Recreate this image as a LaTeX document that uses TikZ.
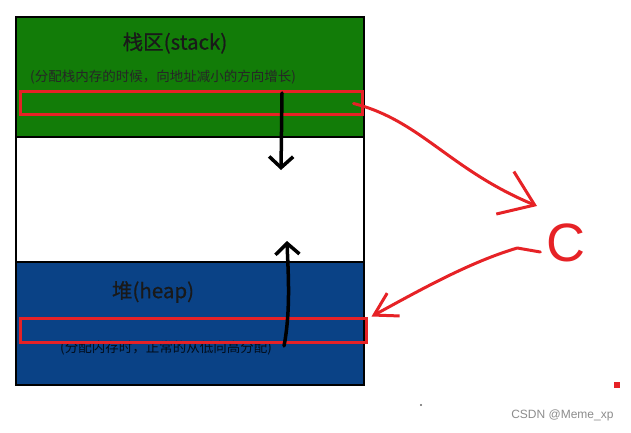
\documentclass[tikz,border=0pt]{standalone}
\usepackage{fontspec}
\newfontfamily\cjk{Noto Sans CJK SC}
\newfontfamily\cjkheavy[FakeBold=0.6]{Noto Sans CJK SC}
\newfontfamily\latinsans{Liberation Sans}
\usetikzlibrary{arrows.meta}
\definecolor{stackgreen}{RGB}{18,124,8}
\definecolor{heapblue}{RGB}{10,66,134}
\definecolor{penred}{RGB}{230,34,38}

\begin{document}
\begin{tikzpicture}[
  x=1pt, y=-1pt,
  region/.style    = {draw=black, line width=2.5pt, minimum width=348pt, inner sep=0pt, outer sep=0pt},
  marker/.style    = {draw=penred, line width=3pt, inner sep=0pt},
  title/.style     = {font={\cjkheavy\fontsize{20.5}{24}\selectfont}, text=black!90, inner sep=0pt},
  note/.style      = {font={\cjk\fontsize{13.5}{16}\selectfont}, text=black!85, inner sep=0pt},
  growarrow/.style = {-{Straight Barb[length=11pt,width=24pt]}, line width=3.5pt, line cap=round},
  pen/.style       = {draw=penred, line width=3pt, line cap=round, line join=round},
]
\useasboundingbox (0,0) rectangle (631,433);

% ---- memory regions ---------------------------------------------------------
\node[region, fill=stackgreen, minimum height=120pt] (stack) at (190,77) {};
\node[region, fill=white,      minimum height=125pt] (free)  at (190,199.5) {};
\node[region, fill=heapblue,   minimum height=123pt] (heap)  at (190,323.5) {};

% ---- labels -----------------------------------------------------------------
\node[title] (stacktitle) at (175,43)  {栈区(stack)};
\node[note]  (stacknote)  at (163,77)  {(分配栈内存的时候，向地址减小的方向增长)};
\node[title] (heaptitle)  at (153,292) {堆(heap)};
\node[note, text=black!80!heapblue] (heapnote) at (166,348) {(分配内存时，正常的从低向高分配)};

% ---- marked cells -----------------------------------------------------------
\node[marker, minimum width=342pt, minimum height=23pt] (stackmark) at (191,103.5) {};
\node[marker, minimum width=346pt, minimum height=24pt] (heapmark)  at (193,330) {};

% ---- growth directions ------------------------------------------------------
\coordinate (stackstart) at (282,93);
\coordinate (stackend)   at (281,170);
\draw[growarrow] (stackstart) -- (stackend);
\coordinate (heapstart) at (284,346);
\coordinate (heapend)   at (287,241);
\draw[growarrow] (heapstart) .. controls (291,310) and (288,270) .. (heapend);

% ---- the pointer C ----------------------------------------------------------
\node[font={\latinsans\fontsize{54}{54}\selectfont}, text=penred, inner sep=0pt] (C) at (566,243) {C};
\coordinate (tipA) at (537,206);
\draw[pen, -{Straight Barb[length=32pt,width=46pt]}]
  ([xshift=-10pt]stackmark.east) .. controls (420,120) and (450,170) .. (tipA);
\draw[pen, -{Straight Barb[length=22pt,width=26pt]}]
  ([shift={(-6,9)}]C.west) -- ++(-23,-4) .. controls (470,262) and (420,290) .. ([xshift=4pt]heapmark.north east);

% ---- specks and watermark ---------------------------------------------------
\fill[penred] (614,382) rectangle (620,388);
\fill[black!60] (421,405) circle (1.2pt);
\node[font={\latinsans\fontsize{12}{14}\selectfont}, text=black!45, anchor=east] (mark) at (617,415) {CSDN @Meme\_xp};

\end{tikzpicture}
\end{document}
